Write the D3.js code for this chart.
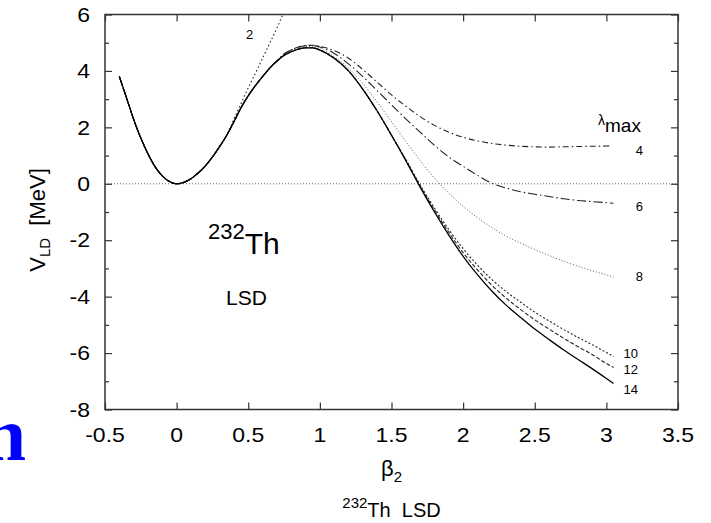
<!DOCTYPE html>
<html><head><meta charset="utf-8">
<script src="https://cdn.jsdelivr.net/npm/d3@7/dist/d3.min.js"></script>
<style>
body{margin:0;background:#fff;}
svg{display:block;font-family:"Liberation Sans",Arial,sans-serif;}
</style></head>
<body><svg id="c" width="711" height="523"></svg>
<script>
// ---------- data ----------
const xTicks = [-0.5, 0, 0.5, 1, 1.5, 2, 2.5, 3, 3.5];
const xTickLabels = ["-0.5", "0", "0.5", "1", "1.5", "2", "2.5", "3", "3.5"];
const yTicks = [-8, -6, -4, -2, 0, 2, 4, 6];
const yTickLabels = ["-8", "-6", "-4", "-2", "0", "2", "4", "6"];
const yMinorTicks = [-7, -5, -3, -1, 1, 3, 5];
const seriesNames = ["2", "4", "6", "8", "10", "12", "14"];

// common well (all lambda_max curves coincide here)
const well = [[-0.4,3.8],[-0.35,3.05],[-0.3,2.28],[-0.25,1.62],[-0.2,1.06],[-0.15,0.6],[-0.1,0.28],
  [-0.05,0.08],[0,0],[0.05,0.05],[0.1,0.18],[0.15,0.38],[0.2,0.63],[0.25,0.95],[0.3,1.32],[0.35,1.72]];
const barrierRise = [[0.4,2.2],[0.45,2.7],[0.5,3.12],[0.55,3.48],[0.6,3.8],[0.65,4.1],[0.7,4.35]];

const v2  = [[0.4,2.3],[0.45,2.85],[0.5,3.4],[0.55,3.92],[0.6,4.45],[0.65,4.98],[0.7,5.52],[0.742,6.0]];
const v4  = [[0.75,4.6],[0.8,4.75],[0.85,4.85],[0.9,4.9],[0.95,4.91],[1.0,4.87],[1.1,4.72],[1.2,4.45],
  [1.3,4.05],[1.4,3.6],[1.5,3.15],[1.6,2.75],[1.7,2.38],[1.8,2.07],[1.9,1.83],[2.0,1.65],[2.1,1.52],
  [2.2,1.43],[2.3,1.37],[2.4,1.33],[2.5,1.31],[2.6,1.3],[2.7,1.31],[2.8,1.32],[2.9,1.33],[3.0,1.34],[3.04,1.35]];
const v6  = [[0.75,4.6],[0.8,4.74],[0.85,4.84],[0.9,4.89],[0.95,4.9],[1.0,4.85],[1.1,4.62],[1.2,4.25],
  [1.3,3.8],[1.4,3.3],[1.5,2.8],[1.6,2.3],[1.7,1.83],[1.8,1.36],[1.9,0.95],[2.0,0.62],[2.1,0.3],
  [2.2,0.02],[2.3,-0.15],[2.4,-0.28],[2.5,-0.37],[2.6,-0.45],[2.7,-0.53],[2.8,-0.59],[2.9,-0.63],[3.0,-0.67],[3.05,-0.69]];
const v8  = [[0.75,4.58],[0.8,4.72],[0.85,4.82],[0.9,4.86],[0.95,4.86],[1.0,4.8],[1.1,4.5],[1.2,4.1],
  [1.3,3.55],[1.4,2.9],[1.5,2.2],[1.6,1.5],[1.7,0.82],[1.8,0.2],[1.9,-0.33],[2.0,-0.8],[2.1,-1.2],
  [2.2,-1.55],[2.3,-1.85],[2.4,-2.1],[2.5,-2.33],[2.6,-2.54],[2.7,-2.74],[2.8,-2.92],[2.9,-3.08],[3.0,-3.23],[3.05,-3.31]];
const peak14 = [[0.75,4.55],[0.8,4.68],[0.85,4.77],[0.9,4.82],[0.95,4.82],[1.0,4.74],[1.1,4.45],[1.2,4.0],
  [1.3,3.35],[1.4,2.58],[1.5,1.72]];
const v10 = [[1.6,0.86],[1.7,-0.04],[1.8,-0.86],[1.9,-1.62],[2.0,-2.3],[2.1,-2.88],[2.2,-3.39],[2.3,-3.82],
  [2.4,-4.19],[2.5,-4.55],[2.6,-4.86],[2.7,-5.16],[2.8,-5.44],[2.9,-5.7],[3.0,-5.98],[3.05,-6.12]];
const v12 = [[1.6,0.84],[1.7,-0.08],[1.8,-0.93],[1.9,-1.72],[2.0,-2.44],[2.1,-3.05],[2.2,-3.59],[2.3,-4.05],
  [2.4,-4.45],[2.5,-4.82],[2.6,-5.15],[2.7,-5.47],[2.8,-5.77],[2.9,-6.05],[3.0,-6.37],[3.05,-6.51]];
const v14 = [[1.6,0.82],[1.7,-0.12],[1.8,-1.0],[1.9,-1.82],[2.0,-2.57],[2.1,-3.22],[2.2,-3.8],[2.3,-4.3],
  [2.4,-4.73],[2.5,-5.15],[2.6,-5.52],[2.7,-5.88],[2.8,-6.22],[2.9,-6.55],[3.0,-6.9],[3.05,-7.08]];

const seriesData = {
  "2":  well.concat(v2),
  "4":  well.concat(barrierRise, v4),
  "6":  well.concat(barrierRise, v6),
  "8":  well.concat(barrierRise, v8),
  "10": well.concat(barrierRise, peak14, v10),
  "12": well.concat(barrierRise, peak14, v12),
  "14": well.concat(barrierRise, peak14, v14)
};
// label anchor points in data coordinates [beta, V]
const labelPos = {"2":[0.51,5.3],"4":[3.23,1.17],"6":[3.23,-0.82],"8":[3.23,-3.29],"10":[3.17,-6.03],"12":[3.17,-6.59],"14":[3.17,-7.3]};

// ---------- styles ----------
const styles = {
  "2":  {dash:"1.5,2.5", w:1.1, c:"#222"},
  "4":  {dash:"6,3,1.5,3", w:1.1, c:"#222"},
  "6":  {dash:"9,3,1.5,3", w:1.1, c:"#222"},
  "8":  {dash:"1,2", w:1, c:"#555"},
  "10": {dash:"2,2", w:1.1, c:"#222"},
  "12": {dash:"4,2", w:1.1, c:"#222"},
  "14": {dash:null, w:1.3, c:"#000"}
};

const svg = d3.select("#c");
const L = 105, R = 678, T = 14.5, B = 409.5;
const x = d3.scaleLinear().domain([-0.5, 3.5]).range([L, R]);
const y = d3.scaleLinear().domain([-8, 6]).range([B, T]);

svg.append("defs").append("clipPath").attr("id","clip")
  .append("rect").attr("x",L).attr("y",T).attr("width",R-L).attr("height",B-T);

// zero line
svg.append("line").attr("x1",L).attr("x2",R).attr("y1",y(0)).attr("y2",y(0))
  .attr("stroke","#666").attr("stroke-width",1).attr("stroke-dasharray","1,2");

// curves
const line = d3.line().x(d=>x(d[0])).y(d=>y(d[1])).curve(d3.curveMonotoneX);
const g = svg.append("g").attr("clip-path","url(#clip)");
seriesNames.forEach(n=>{
  const s = styles[n];
  g.append("path").datum(seriesData[n]).attr("d",line).attr("fill","none")
   .attr("stroke",s.c).attr("stroke-width",s.w)
   .attr("stroke-dasharray",s.dash);
});

// axes (ticks inward)
function noLabels(a){ return a.tickFormat(()=> ""); }
const axStyle = sel => { sel.select(".domain").remove(); sel.selectAll("line").attr("stroke","#333").attr("stroke-width",1.2); };
svg.append("g").attr("transform",`translate(${L},0)`).call(noLabels(d3.axisLeft(y).tickValues(yTicks).tickSize(-7))).call(axStyle);
svg.append("g").attr("transform",`translate(${L},0)`).call(noLabels(d3.axisLeft(y).tickValues(yMinorTicks).tickSize(-4))).call(axStyle);
svg.append("g").attr("transform",`translate(${R},0)`).call(noLabels(d3.axisRight(y).tickValues(yTicks).tickSize(-7))).call(axStyle);
svg.append("g").attr("transform",`translate(${R},0)`).call(noLabels(d3.axisRight(y).tickValues(yMinorTicks).tickSize(-4))).call(axStyle);
svg.append("g").attr("transform",`translate(0,${B})`).call(noLabels(d3.axisBottom(x).tickValues(xTicks).tickSize(-7))).call(axStyle);
svg.append("g").attr("transform",`translate(0,${T})`).call(noLabels(d3.axisTop(x).tickValues(xTicks).tickSize(-7))).call(axStyle);
svg.selectAll("g.tick text").remove();

// frame
svg.append("rect").attr("x",L).attr("y",T).attr("width",R-L).attr("height",B-T)
  .attr("fill","none").attr("stroke","#333").attr("stroke-width",1.5);

// tick labels
const tickFont = 20, sx = 1.15;
yTicks.forEach((v,i)=>{
  svg.append("text").attr("transform",`translate(90,${y(v)}) scale(${sx},1)`)
    .attr("text-anchor","end").attr("dy","0.36em").attr("font-size",tickFont).attr("fill","#000").text(yTickLabels[i]);
});
xTicks.forEach((v,i)=>{
  svg.append("text").attr("transform",`translate(${x(v)},${B+32}) scale(${sx},1)`)
    .attr("text-anchor","middle").attr("font-size",tickFont).attr("fill","#000").text(xTickLabels[i]);
});

// axis titles
const yt = svg.append("text").attr("transform",`translate(45,220) rotate(-90)`)
  .attr("text-anchor","middle").attr("font-size",22).attr("fill","#000");
yt.append("tspan").text("V");
yt.append("tspan").attr("font-size",15).attr("dy",5).text("LD");
yt.append("tspan").attr("dy",-5).text("\u00a0\u00a0[MeV]");

const xt = svg.append("text").attr("x",(L+R)/2).attr("y",476).attr("text-anchor","middle")
  .attr("font-size",22).attr("fill","#000");
xt.append("tspan").text("\u03b2");
xt.append("tspan").attr("font-size",15).attr("dy",6).text("2");

const bt = svg.append("text").attr("x",(L+R)/2).attr("y",517).attr("text-anchor","middle")
  .attr("font-size",20).attr("fill","#000");
bt.append("tspan").attr("font-size",15).attr("dy",-9).text("232");
bt.append("tspan").attr("dy",9).text("Th\u00a0\u00a0LSD");

// inner annotations
const th = svg.append("text").attr("x",208).attr("y",254).attr("font-size",30).attr("fill","#000");
th.append("tspan").attr("font-size",22).attr("dy",-15).text("232");
th.append("tspan").attr("dy",15).text("Th");
svg.append("text").attr("x",226).attr("y",305).attr("font-size",21).attr("fill","#000").text("LSD");

// lambda_max header
const lm = svg.append("text").attr("x",598).attr("y",132).attr("font-size",19).attr("fill","#000");
lm.append("tspan").attr("font-size",14).attr("dy",-7).text("\u03bb");
lm.append("tspan").attr("dy",7).text("max");

// curve labels
seriesNames.forEach(n=>{
  const p = labelPos[n];
  svg.append("text").attr("x",x(p[0])).attr("y",y(p[1])).attr("dy","0.35em")
    .attr("text-anchor","middle").attr("font-size",13).attr("fill","#000").text(n);
});

// cut-off blue title fragment (partly outside the picture in the reference)
svg.append("text").attr("x",26).attr("y",460).attr("text-anchor","end")
  .attr("font-family","'Liberation Serif','Times New Roman',serif").attr("font-weight","bold")
  .attr("font-size",76).attr("fill","#0000ff").text("n");
</script></body></html>
